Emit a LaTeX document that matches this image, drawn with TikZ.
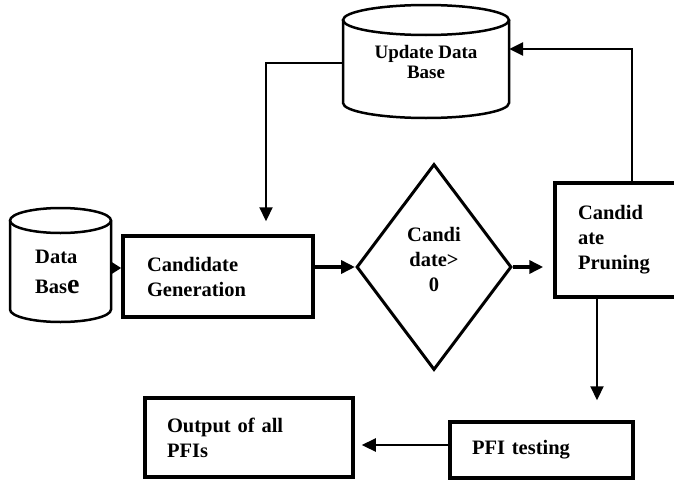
\documentclass[tikz,border=0pt]{standalone}
\usepackage{fontspec}
\setmainfont{Liberation Serif}
\usetikzlibrary{shapes.geometric,arrows.meta}
\begin{document}
\begin{tikzpicture}[x=1pt,y=-1pt,
  txt/.style={font=\fontsize{20.5}{25}\selectfont\bfseries},
  boxnode/.style={draw, line width=3.5pt, align=left, inner ysep=0pt, txt},
  conn/.style={line width=2.2pt, -{Triangle[length=14pt,width=13pt]}},
  thickconn/.style={line width=3.5pt, -{Triangle[length=14pt,width=13pt]}},
  cylline/.style={line width=2.5pt}]
\useasboundingbox (0,0) rectangle (674,479);

% boxes
\node[boxnode, minimum width=190pt, minimum height=81pt, text width=142pt, inner xsep=24pt] (cg) at (218,276.5) {Candidate\\Generation};
\node[boxnode, minimum width=135pt, minimum height=114pt, text width=89pt, inner xsep=23pt] (pr) at (622.5,240) {Candid\\ate\\Pruning};
\node[boxnode, minimum width=208pt, minimum height=79pt, text width=164pt, inner xsep=22pt] (out) at (249,437.5) {Output of all\\PFIs};
\node[boxnode, minimum width=183pt, minimum height=56pt, text width=139pt, inner xsep=22pt] (pfi) at (541.5,450) {PFI testing};

% decision
\node[draw, diamond, line width=3pt, minimum width=155pt, minimum height=206pt, inner sep=0pt] (dia) at (434,267) {};
\node[txt, align=center] (diat) at (434,259) {Candi\\date>\\0};

% Data Base cylinder
\node[minimum width=101pt, minimum height=114pt, inner sep=0pt] (db) at (60.5,265) {};
\draw[cylline] (111,220.5) -- (111,309.5) arc[start angle=0,end angle=180,x radius=50.5,y radius=12.5] -- (10,220.5);
\draw[cylline] (60.5,220.5) ellipse [x radius=50.5, y radius=12.5];
\node[txt, anchor=west, align=left, inner sep=0pt] (dbt) at (35,272) {Data\\[5pt]Bas{\fontsize{28}{28}\selectfont e}};

% Update Data Base cylinder
\node[minimum width=166pt, minimum height=113pt, inner sep=0pt] (udb) at (426,61.5) {};
\draw[cylline] (509,20) -- (509,103) arc[start angle=0,end angle=180,x radius=83,y radius=15] -- (343,20);
\draw[cylline] (426,20) ellipse [x radius=83, y radius=15];
\node[font=\fontsize{19}{20}\selectfont\bfseries, align=center] (udbt) at (426,62) {Update Data\\Base};

% connectors
\draw[line width=3.5pt, -{Triangle[length=11pt,width=13pt]}] ([yshift=-3pt]db.east) -- ([yshift=-3pt]db.east -| cg.west);
\draw[thickconn] (cg.east |- dia.west) -- (dia.west);
\draw[thickconn, shorten >=10pt] (dia.east) -- (dia.east -| pr.west);
\coordinate (c1) at (632,49);
\draw[conn, line width=2.6pt] (pr.north -| c1) -- (c1) -- (c1 -| udb.east);
\coordinate (c2) at (266,63);
\draw[conn, shorten >=13pt] (udb.west |- c2) -- (c2) -- (c2 |- cg.north);
\coordinate (c3) at (597,350);
\draw[conn, shorten >=20pt] (pr.south -| c3) -- (c3 |- pfi.north);
\draw[conn, shorten >=7pt] ([yshift=5pt]pfi.west) -- ([yshift=5pt]pfi.west -| out.east);
\end{tikzpicture}
\end{document}
